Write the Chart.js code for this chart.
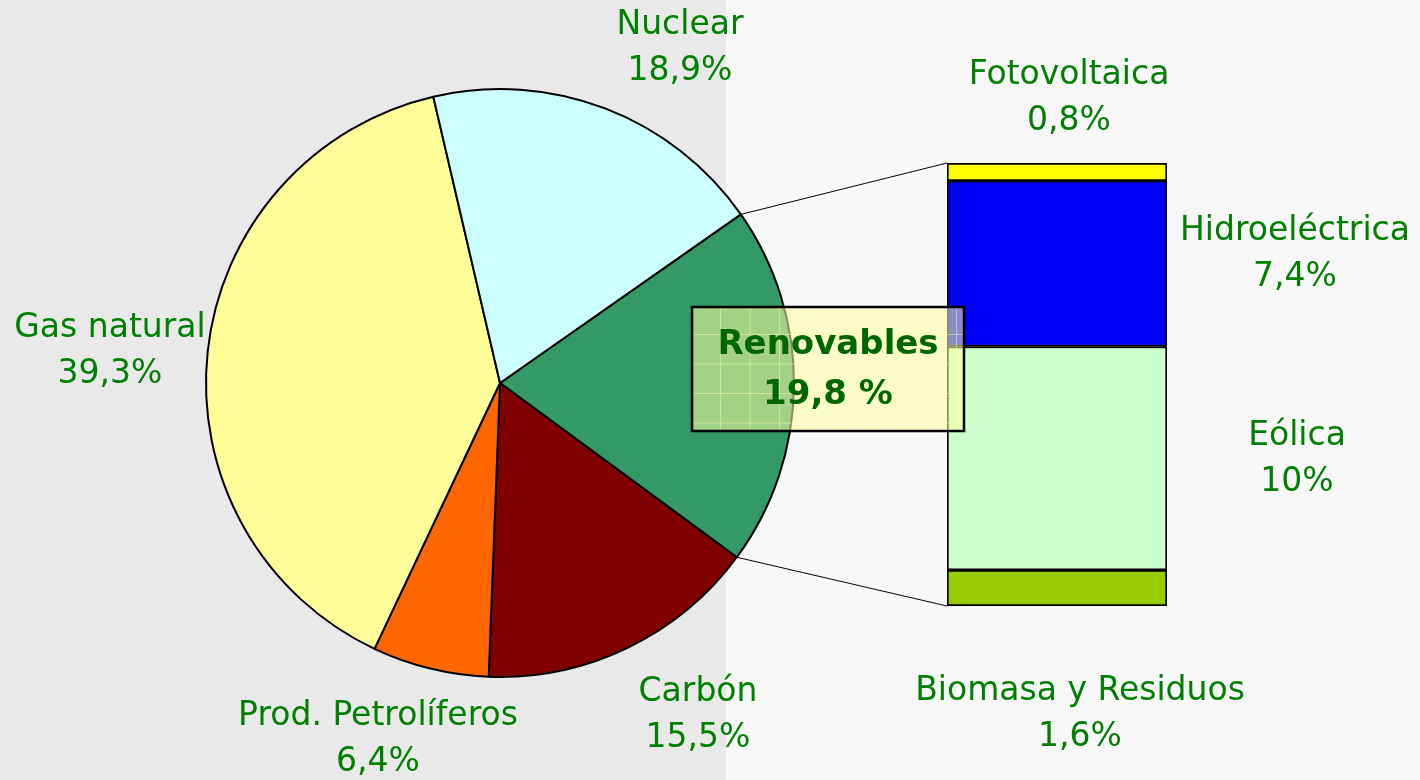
<!DOCTYPE html>
<html>
<head>
<meta charset="utf-8">
<script src="https://cdn.jsdelivr.net/npm/chart.js@4.4.1/dist/chart.umd.min.js"></script>
<style>
  html, body { margin: 0; padding: 0; }
  #wrap {
    position: relative;
    width: 1420px;
    height: 780px;
    background: linear-gradient(to right, #e9e9e9 0, #e9e9e9 726px, #f8f8f8 726px);
  }
  #wrap canvas { position: absolute; left: 0; top: 0; }
</style>
</head>
<body>
<div id="wrap">
  <canvas id="pie" width="1420" height="780"></canvas>
  <canvas id="bar" width="1420" height="780"></canvas>
</div>
<script>
// primary energy mix (%)
const sources = ['Renovables', 'Carbón', 'Prod. Petrolíferos', 'Gas natural', 'Nuclear'];
const shares = [19.8, 15.5, 6.4, 39.3, 18.9];
const sourceColors = ['#339966', '#800000', '#FF6600', '#FFFF99', '#CCFFFF'];

// renewables breakdown (%), bottom to top
const renewables = ['Biomasa y Residuos', 'Eólica', 'Hidroeléctrica', 'Fotovoltaica'];
const renewableShares = [1.6, 10, 7.4, 0.8];
const renewableColors = ['#99CC00', '#CCFFCC', '#0000FF', '#FFFF00'];

const renewTotal = 19.8;

const GREEN = '#008000';
const FONT = '33px "DejaVu Sans"';
const fmt = v => String(v).replace('.', ',') + '%';

// where each label goes (center x, first line y)
const pieLabelPos = {
  'Carbón': [698, 692],
  'Prod. Petrolíferos': [378, 716],
  'Gas natural': [110, 328],
  'Nuclear': [680, 25]
};
const barLabelPos = {
  'Biomasa y Residuos': [1080, 691],
  'Eólica': [1297, 436],
  'Hidroeléctrica': [1295, 231],
  'Fotovoltaica': [1069, 75]
};

function drawLabel(ctx, name, value, pos) {
  ctx.save();
  ctx.fillStyle = GREEN;
  ctx.font = FONT;
  ctx.textAlign = 'center';
  ctx.textBaseline = 'middle';
  ctx.fillText(name, pos[0], pos[1]);
  ctx.fillText(fmt(value), pos[0], pos[1] + 46);
  ctx.restore();
}

const pieLabels = {
  id: 'pieLabels',
  afterDraw(chart) {
    const ctx = chart.ctx;
    sources.forEach((s, i) => {
      if (pieLabelPos[s]) drawLabel(ctx, s, shares[i], pieLabelPos[s]);
    });
  }
};

const pieChart = new Chart(document.getElementById('pie'), {
  type: 'pie',
  data: {
    labels: sources,
    datasets: [{
      data: shares,
      backgroundColor: sourceColors,
      borderColor: '#000',
      borderWidth: 2
    }]
  },
  options: {
    responsive: false,
    animation: false,
    rotation: 55,
    layout: { padding: { left: 205, right: 625, top: 88, bottom: 102 } },
    plugins: { legend: { display: false }, tooltip: { enabled: false } }
  },
  plugins: [pieLabels]
});

// connector lines, bar labels and the "Renovables" box
const barExtras = {
  id: 'barExtras',
  afterDraw(chart) {
    const ctx = chart.ctx;
    const arc = pieChart.getDatasetMeta(0).data[0];
    const topBar = chart.getDatasetMeta(renewables.length - 1).data[0];
    const botBar = chart.getDatasetMeta(0).data[0];
    const left = topBar.x - topBar.width / 2;

    // Chart.js angles: 0 = 3 o'clock
    const pStart = [arc.x + arc.outerRadius * Math.cos(arc.startAngle), arc.y + arc.outerRadius * Math.sin(arc.startAngle)];
    const pEnd = [arc.x + arc.outerRadius * Math.cos(arc.endAngle), arc.y + arc.outerRadius * Math.sin(arc.endAngle)];

    ctx.save();
    ctx.strokeStyle = '#000';
    ctx.lineWidth = 1;
    ctx.beginPath();
    ctx.moveTo(pStart[0], pStart[1]);
    ctx.lineTo(left, topBar.y);
    ctx.moveTo(pEnd[0], pEnd[1]);
    ctx.lineTo(left, botBar.base);
    ctx.stroke();
    ctx.restore();

    renewables.forEach((r, i) => drawLabel(ctx, r, renewableShares[i], barLabelPos[r]));

    // translucent textured box
    const bx = 692, by = 307, bw = 272, bh = 124;
    ctx.save();
    ctx.fillStyle = 'rgba(255,255,160,0.55)';
    ctx.fillRect(bx, by, bw, bh);
    ctx.beginPath();
    ctx.rect(bx, by, bw, bh);
    ctx.clip();
    ctx.strokeStyle = 'rgba(255,255,170,0.45)';
    ctx.lineWidth = 1;
    ctx.beginPath();
    for (let x = bx + 28.5; x < bx + bw; x += 29.5) { ctx.moveTo(x, by); ctx.lineTo(x, by + bh); }
    for (let y = by + 27.5; y < by + bh; y += 29.5) { ctx.moveTo(bx, y); ctx.lineTo(bx + bw, y); }
    ctx.stroke();
    ctx.restore();

    ctx.save();
    ctx.strokeStyle = '#000';
    ctx.lineWidth = 2.5;
    ctx.strokeRect(bx, by, bw, bh);
    ctx.fillStyle = '#006600';
    ctx.font = 'bold 34px "DejaVu Sans"';
    ctx.textAlign = 'center';
    ctx.textBaseline = 'middle';
    ctx.fillText(sources[0], bx + bw / 2, 345);
    ctx.fillText(String(shares[0]).replace('.', ',') + ' %', bx + bw / 2, 395);
    ctx.restore();
  }
};

new Chart(document.getElementById('bar'), {
  type: 'bar',
  data: {
    labels: ['Renovables'],
    datasets: renewables.map((r, i) => ({
      label: r,
      data: [renewableShares[i]],
      backgroundColor: renewableColors[i],
      borderColor: '#000',
      borderWidth: 2,
      borderSkipped: false,
      barPercentage: 1,
      categoryPercentage: 1
    }))
  },
  options: {
    responsive: false,
    animation: false,
    layout: { padding: { left: 947, right: 253, top: 163, bottom: 174 } },
    scales: {
      x: { stacked: true, display: false },
      y: { stacked: true, display: false, min: 0, max: renewTotal }
    },
    plugins: { legend: { display: false }, tooltip: { enabled: false } }
  },
  plugins: [barExtras]
});
</script>
</body>
</html>
